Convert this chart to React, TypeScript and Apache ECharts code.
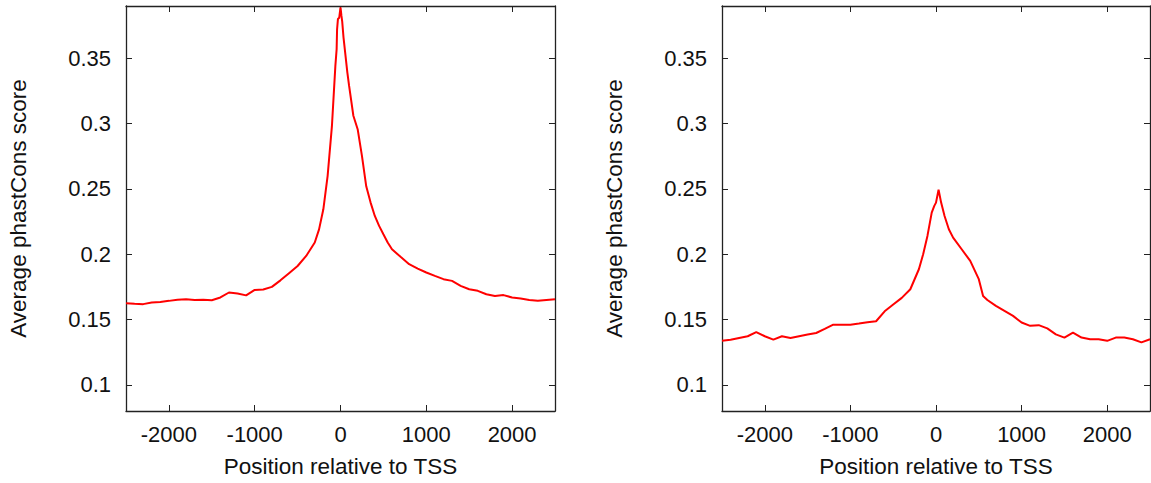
import React, { useEffect, useRef } from "react";
import * as echarts from "echarts";

// Position relative to TSS (bp) and average phastCons score — left panel
const leftPositions = [
  -2500, -2400, -2300, -2200, -2100, -2000, -1900, -1800, -1700, -1600, -1500, -1400, -1300, -1200, -1100,
  -1000, -900, -800, -700, -600, -500, -400, -300, -250, -200, -150, -100, -60, -45, -40, -30, -15, 0, 10,
  20, 35, 50, 80, 100, 150, 200, 250, 300, 350, 400, 450, 500, 550, 600, 700, 800, 900, 1000, 1100, 1200,
  1300, 1400, 1500, 1600, 1700, 1800, 1900, 2000, 2100, 2200, 2300, 2400, 2500,
];
const leftScores = [
  0.1625, 0.162, 0.1618, 0.163, 0.1635, 0.1643, 0.1652, 0.1656, 0.165, 0.1652, 0.1648, 0.1669, 0.1707, 0.17,
  0.1685, 0.1727, 0.173, 0.175, 0.18, 0.1855, 0.191, 0.1987, 0.209, 0.219, 0.2344, 0.26, 0.298, 0.344, 0.357,
  0.372, 0.38, 0.381, 0.389, 0.383, 0.378, 0.366, 0.357, 0.339, 0.329, 0.306, 0.2957, 0.2753, 0.252, 0.2397,
  0.2293, 0.2217, 0.2153, 0.209, 0.2038, 0.198, 0.1924, 0.189, 0.186, 0.1834, 0.1809, 0.1796, 0.1758, 0.1732,
  0.172, 0.1694, 0.168, 0.1687, 0.1669, 0.1661, 0.165, 0.1643, 0.165, 0.1656,
];

// Right panel
const rightPositions = [
  -2500, -2400, -2300, -2200, -2100, -2000, -1900, -1800, -1700, -1600, -1500, -1400, -1300, -1200, -1100,
  -1000, -900, -800, -700, -600, -500, -400, -300, -200, -150, -100, -50, -20, 0, 30, 60, 100, 150, 200, 300,
  400, 500, 550, 600, 700, 800, 900, 1000, 1100, 1200, 1300, 1400, 1500, 1600, 1700, 1800, 1900, 2000, 2100,
  2200, 2300, 2400, 2500,
];
const rightScores = [
  0.1337, 0.1346, 0.1359, 0.1372, 0.1403, 0.1372, 0.1346, 0.1372, 0.1359, 0.1372, 0.1385, 0.1397, 0.1428,
  0.1461, 0.1461, 0.1461, 0.1469, 0.1479, 0.1487, 0.1563, 0.1615, 0.1666, 0.1732, 0.1885, 0.2, 0.214, 0.2318,
  0.237, 0.2395, 0.2493, 0.2395, 0.2293, 0.2191, 0.2127, 0.2038, 0.1949, 0.1809, 0.168, 0.165, 0.1605, 0.1567,
  0.1528, 0.1477, 0.1452, 0.1457, 0.1432, 0.1387, 0.1362, 0.14, 0.1362, 0.1349, 0.1349, 0.1337, 0.1362, 0.1362,
  0.1349, 0.1325, 0.1349,
];

const xTicks = [-2000, -1000, 0, 1000, 2000];
const yTicks = [0.1, 0.15, 0.2, 0.25, 0.3, 0.35];

const xTitle = "Position relative to TSS";
const yTitle = "Average phastCons score";

const FONT = "'Liberation Sans', Arial, Helvetica, sans-serif";
const AXIS_COLOR = "#222";
const FS = 22;
const TFS = 22.5;

function makeX(gridIndex: number, main: boolean) {
  return {
    type: "value",
    gridIndex,
    position: main ? "bottom" : "top",
    min: -2500,
    max: 2500,
    name: main ? xTitle : "",
    nameLocation: "middle",
    nameGap: 44,
    nameTextStyle: { fontFamily: FONT, fontSize: TFS, color: "#111" },
    axisLine: { show: true, onZero: false, lineStyle: { color: AXIS_COLOR, width: 1.3 } },
    axisTick: { show: true, inside: true, length: 6, customValues: xTicks, lineStyle: { color: AXIS_COLOR, width: 1 } },
    axisLabel: {
      show: main,
      customValues: xTicks,
      margin: 12,
      fontFamily: FONT,
      fontSize: FS,
      color: "#111",
      formatter: (v: number) => String(v),
    },
    splitLine: { show: false },
  };
}

function makeY(gridIndex: number, main: boolean) {
  return {
    type: "value",
    gridIndex,
    position: main ? "left" : "right",
    min: 0.08,
    max: 0.39,
    name: main ? yTitle : "",
    nameLocation: "middle",
    nameGap: 96,
    nameRotate: 90,
    nameTextStyle: { fontFamily: FONT, fontSize: TFS, color: "#111" },
    axisLine: { show: true, onZero: false, lineStyle: { color: AXIS_COLOR, width: 1.3 } },
    axisTick: { show: true, inside: true, length: 6, customValues: yTicks, lineStyle: { color: AXIS_COLOR, width: 1 } },
    axisLabel: {
      show: main,
      customValues: yTicks,
      margin: 15,
      fontFamily: FONT,
      fontSize: FS,
      color: "#111",
      formatter: (v: number) => String(Math.round(v * 100) / 100),
    },
    splitLine: { show: false },
  };
}

export default function App() {
  const ref = useRef<HTMLDivElement>(null);
  useEffect(() => {
    if (!ref.current) return;
    const chart = echarts.init(ref.current, undefined, { renderer: "svg" });
    const leftData = leftPositions.map((p, i) => [p, leftScores[i]]);
    const rightData = rightPositions.map((p, i) => [p, rightScores[i]]);
    chart.setOption({
      animation: false,
      backgroundColor: "#fff",
      grid: [
        { left: 126, top: 6, width: 429, height: 406 },
        { left: 722, top: 6, width: 428, height: 406 },
      ],
      xAxis: [makeX(0, true), makeX(0, false), makeX(1, true), makeX(1, false)],
      yAxis: [makeY(0, true), makeY(0, false), makeY(1, true), makeY(1, false)],
      series: [
        {
          type: "line",
          xAxisIndex: 0,
          yAxisIndex: 0,
          data: leftData,
          showSymbol: false,
          lineStyle: { color: "#ff0000", width: 2 },
        },
        {
          type: "line",
          xAxisIndex: 2,
          yAxisIndex: 2,
          data: rightData,
          showSymbol: false,
          lineStyle: { color: "#ff0000", width: 2 },
        },
      ],
    });
    return () => chart.dispose();
  }, []);
  return (
    <div
      ref={ref}
      style={{ position: "absolute", left: 0, top: 0, width: 1151, height: 483, background: "#fff" }}
    />
  );
}
